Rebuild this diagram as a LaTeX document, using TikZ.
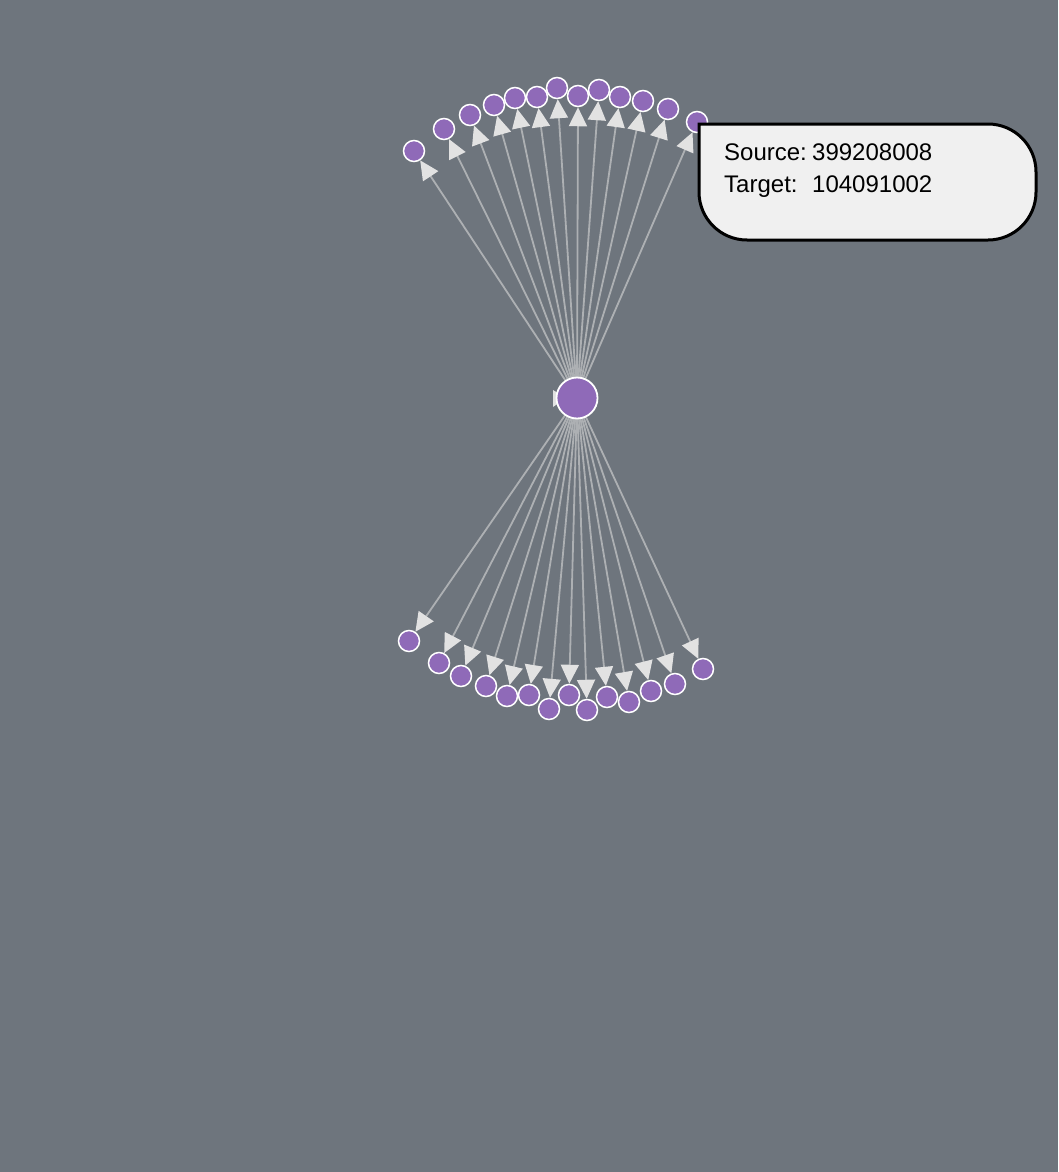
\documentclass[tikz,border=0pt]{standalone}
\usepackage{fontspec}
\setmainfont{Liberation Sans}
\usetikzlibrary{arrows.meta,backgrounds}
\definecolor{bgc}{HTML}{6E757D}
\definecolor{nodec}{HTML}{8F6AB8}
\definecolor{edgec}{HTML}{ADB0B3}
\definecolor{tipc}{HTML}{E2E2E2}
\definecolor{tipbox}{HTML}{F0F0F0}
\tikzset{
  leaf/.style={circle, fill=nodec, draw=white, line width=1.5pt, minimum size=21pt, inner sep=0pt},
  hub/.style={circle, fill=nodec, draw=white, line width=1.8pt, minimum size=41pt, inner sep=0pt},
  link/.style={draw=edgec, line width=1.8pt, -{Triangle[length=19pt,width=18pt,color=tipc]}},
  tiptext/.style={anchor=base west, inner sep=0pt, font=\fontsize{24pt}{28pt}\selectfont, text=black}
}
\begin{document}
\begin{tikzpicture}[x=1pt,y=-1pt]
\useasboundingbox (0,0) rectangle (1058,1172);
\node[hub] (c) at (577,398) {};
\foreach \i/\x/\y in {1/414/151,2/444/129,3/470/115,4/494/105,5/515/98,6/537/97,7/557/88,8/578/96,9/599/90,10/620/97,11/643/101,12/668/109,13/697/122}
  \node[leaf] (t\i) at (\x,\y) {};
\foreach \i/\x/\y in {1/409/641,2/439/663,3/461/676,4/486/686,5/507/696,6/529/695,7/549/709,8/569/695,9/587/710,10/607/697,11/629/702,12/651/691,13/675/684,14/703/669}
  \node[leaf] (b\i) at (\x,\y) {};
\begin{scope}[on background layer]
  \fill[bgc] (0,0) rectangle (1058,1172);
  \foreach \i in {1,...,13} \draw[link] (c.center) -- (t\i);
  \foreach \i in {1,...,14} \draw[link] (c.center) -- (b\i);
  \fill[tipc] (553,390) -- (566,398) -- (553,407) -- cycle;
\end{scope}
% tooltip
\draw[fill=tipbox, draw=black, line width=3pt]
  (699,124) -- (988,124) arc[start angle=-90, end angle=0, radius=48]
  -- (1036,192) arc[start angle=0, end angle=90, radius=48]
  -- (747,240) arc[start angle=90, end angle=180, radius=48]
  -- cycle;
\node[tiptext] (s1) at (724,160) {Source:};
\node[tiptext] (s2) at (812,160) {399208008};
\node[tiptext] (g1) at (724,192) {Target:};
\node[tiptext] (g2) at (812,192) {104091002};
\end{tikzpicture}
\end{document}
